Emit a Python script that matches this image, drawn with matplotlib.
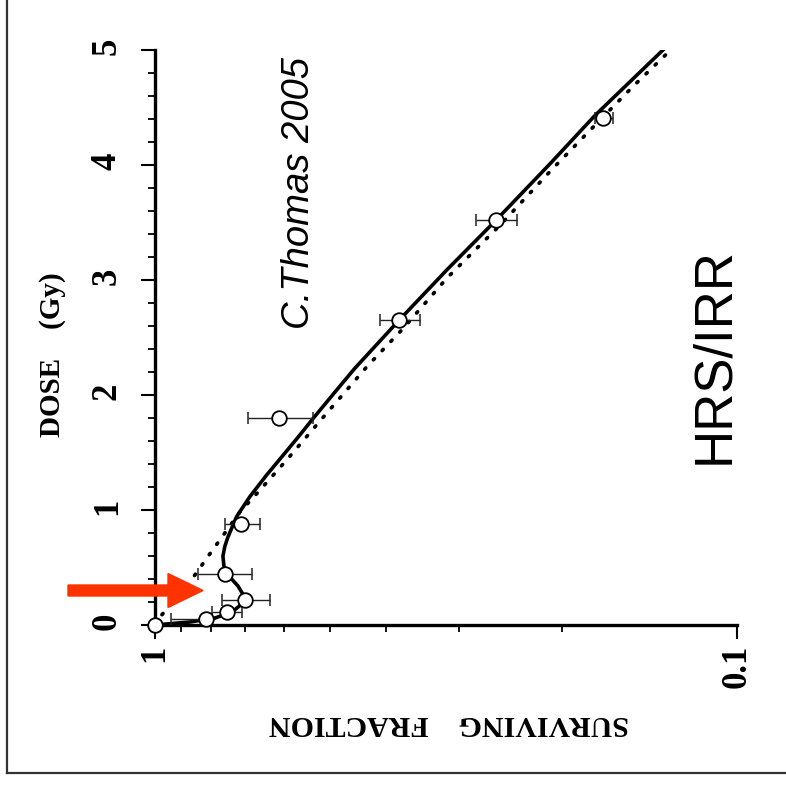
import matplotlib
matplotlib.use("Agg")
import matplotlib.pyplot as plt
from matplotlib.ticker import FixedLocator, MultipleLocator, NullFormatter, LogLocator
from matplotlib.patches import FancyArrow
from matplotlib.lines import Line2D

# measured cells (dose in Gy, surviving fraction)
dose_pts = [0.0, 0.052, 0.110, 0.215, 0.441, 0.881, 1.797, 2.652, 3.522, 4.406]
sf_pts = [1.0, 0.817, 0.750, 0.698, 0.757, 0.709, 0.611, 0.380, 0.259, 0.170]
sf_hi = [1.0, 0.938, 0.798, 0.767, 0.841, 0.757, 0.690, 0.410, 0.281, 0.175]
sf_lo = [1.0, 0.798, 0.708, 0.633, 0.679, 0.658, 0.534, 0.350, 0.239, 0.163]

# induced repair fit (solid)
solid_dose = [0.0, 0.026, 0.061, 0.113, 0.183, 0.252, 0.339, 0.426, 0.513, 0.60, 0.687, 0.765,
              0.942, 1.116, 1.304, 1.478, 1.652, 1.797, 2.058, 2.232, 2.652, 3.087, 3.522,
              4.015, 4.435, 5.0]
solid_sf = [1.0, 0.869, 0.787, 0.736, 0.708, 0.702, 0.719, 0.745, 0.760, 0.763, 0.757, 0.748,
            0.723, 0.686, 0.642, 0.601, 0.563, 0.534, 0.484, 0.453, 0.380, 0.315, 0.259,
            0.209, 0.175, 0.134]

# LQ fit (dotted)
dot_dose = [0.0, 0.087, 0.368, 0.609, 0.841, 0.985, 1.159, 1.435, 1.739, 2.246, 2.580, 3.015,
            3.478, 3.971, 4.363, 4.681, 5.0]
dot_sf = [1.0, 0.972, 0.871, 0.806, 0.747, 0.713, 0.663, 0.593, 0.527, 0.432, 0.374, 0.315,
          0.255, 0.207, 0.174, 0.151, 0.130]

x_ticks = [1, 0.1]
x_ticklabels = ["1", "0.1"]
y_ticks = [0, 1, 2, 3, 4, 5]
y_ticklabels = ["0", "1", "2", "3", "4", "5"]

W, H = 786, 785
fig = plt.figure(figsize=(W / 100, H / 100), dpi=100)
ax = fig.add_axes([154.5 / W, 1 - 625 / H, (737 - 154.5) / W, 575 / H])

ax.plot(dot_sf, dot_dose, color="black", lw=2.7, linestyle=(0, (0.4, 3.0)),
        dash_capstyle="round", zorder=2)
ax.plot(solid_sf, solid_dose, color="black", lw=2.6, zorder=3)

lo_err = [s - l for s, l in zip(sf_pts[1:], sf_lo[1:])]
hi_err = [h - s for s, h in zip(sf_pts[1:], sf_hi[1:])]
ax.errorbar(sf_pts[1:], dose_pts[1:], xerr=[lo_err, hi_err], fmt="none",
            ecolor="#222222", elinewidth=1.0, capsize=4, capthick=1.1, zorder=4)
ax.plot(sf_pts, dose_pts, "o", ms=10.5, mfc="white", mec="black", mew=1.3,
        clip_on=False, zorder=5)

ax.set_xscale("log")
ax.set_xlim(1, 0.1)
ax.set_ylim(0, 5)
ax.xaxis.set_major_locator(FixedLocator(x_ticks))
ax.set_xticklabels(x_ticklabels)
ax.xaxis.set_minor_locator(LogLocator(base=10, subs=range(2, 10)))
ax.xaxis.set_minor_formatter(NullFormatter())
ax.set_yticks(y_ticks)
ax.set_yticklabels(y_ticklabels)
ax.yaxis.set_minor_locator(MultipleLocator(0.2))

for s in ["top", "right"]:
    ax.spines[s].set_visible(False)
for s in ["left", "bottom"]:
    ax.spines[s].set_linewidth(2.4)

ax.tick_params(which="major", direction="out", length=10, width=1.5, color="black")
ax.tick_params(which="minor", direction="out", length=5, width=1.3, color="black")
ax.tick_params(axis="y", which="major", pad=12, labelrotation=90)
ax.tick_params(axis="x", which="major", pad=4, labelrotation=90)
for lab in ax.get_xticklabels() + ax.get_yticklabels():
    lab.set_fontfamily("Liberation Serif")
    lab.set_fontweight("bold")
    lab.set_fontsize(25)

fig.text(53 / W, 1 - 355 / H, "DOSE    (Gy)", rotation=90, ha="center", va="center",
         family="Liberation Serif", weight="bold", fontsize=21)
fig.text(449 / W, 1 - 723 / H, "SURVIVING    FRACTION", rotation=180, ha="center",
         va="center", family="Liberation Serif", weight="bold", fontsize=21.5)
fig.text(299 / W, 1 - 193 / H, "C.Thomas 2005", rotation=90, ha="center", va="center",
         family="Liberation Sans", style="italic", fontsize=27.5)
fig.text(714 / W, 1 - 356 / H, "HRS/IRR", rotation=90, ha="center", va="center",
         family="Liberation Sans", fontsize=38)

# red arrow pointing at the low dose dip
fig.patches.append(FancyArrow(68 / W, 1 - 590.5 / H, 135 / W, 0, width=11 / H,
                              head_width=34 / H, head_length=35 / W, length_includes_head=True,
                              color="#FF3300", transform=fig.transFigure, figure=fig))

# page frame
fig.lines.append(Line2D([7 / W, 7 / W], [1.0, 1 - 773 / H], color="#333333", lw=1.6,
                        transform=fig.transFigure, figure=fig))
fig.lines.append(Line2D([7 / W, 1.0], [1 - 773 / H, 1 - 773 / H], color="#333333", lw=1.6,
                        transform=fig.transFigure, figure=fig))

fig.savefig("out.png", dpi=100)
